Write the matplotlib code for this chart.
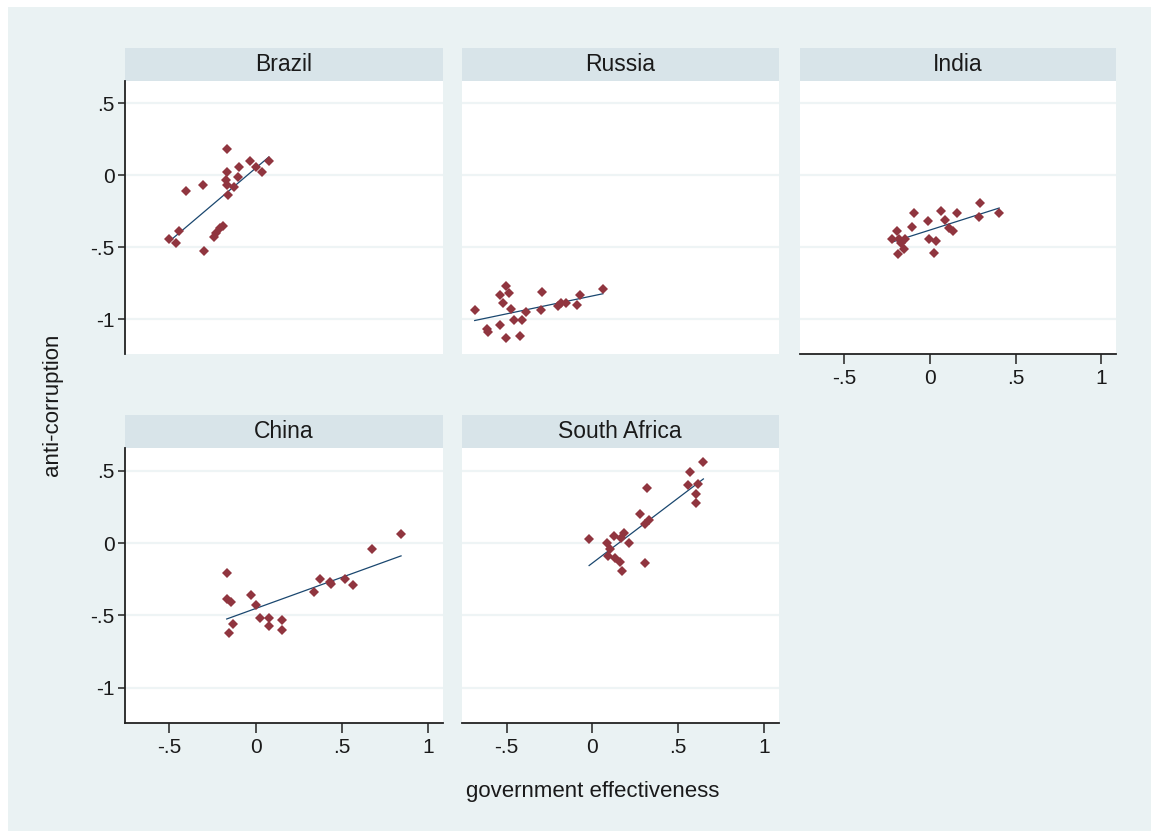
"""
Scatter plots of anti-corruption against government effectiveness for the BRICS countries,
with a linear fit for each country.
"""

import matplotlib.pyplot as plt
import numpy as np
from matplotlib.patches import Rectangle

plt.rcParams["font.family"] = ["Liberation Sans", "DejaVu Sans"]

COUNTRIES = ["Brazil", "Russia", "India", "China", "South Africa"]

brazil_x = [-0.167, -0.035, 0.076, -0.097, 0.004, 0.039, -0.167, -0.105, -0.174, -0.167, -0.128,
            -0.306, -0.403, -0.163, -0.446, -0.504, -0.461, -0.297, -0.190, -0.209, -0.228, -0.242]
brazil_y = [0.18, 0.10, 0.10, 0.06, 0.06, 0.025, 0.02, -0.01, -0.03, -0.07, -0.08,
            -0.07, -0.11, -0.14, -0.39, -0.44, -0.47, -0.53, -0.35, -0.37, -0.40, -0.43]

russia_x = [-0.686, -0.506, -0.536, -0.487, -0.522, -0.473, -0.296, -0.388, -0.302, -0.458, -0.411,
            -0.540, -0.613, -0.608, -0.506, -0.419, -0.199, -0.185, -0.156, -0.091, -0.072, 0.061]
russia_y = [-0.94, -0.77, -0.83, -0.82, -0.89, -0.93, -0.81, -0.95, -0.94, -1.01, -1.01,
            -1.04, -1.07, -1.09, -1.13, -1.12, -0.91, -0.89, -0.89, -0.90, -0.83, -0.79]

india_x = [0.294, 0.404, 0.286, 0.159, 0.066, 0.091, 0.110, 0.135, -0.093, -0.102, -0.012,
           -0.006, 0.037, 0.023, -0.189, -0.223, -0.179, -0.145, -0.170, -0.151, -0.185]
india_y = [-0.19, -0.26, -0.29, -0.26, -0.25, -0.31, -0.37, -0.39, -0.26, -0.36, -0.32,
           -0.44, -0.46, -0.54, -0.39, -0.44, -0.44, -0.44, -0.47, -0.51, -0.55]

china_x = [0.842, 0.671, -0.168, 0.370, 0.433, 0.437, 0.515, 0.563, 0.339, -0.029,
           0.000, -0.168, -0.142, 0.023, 0.076, 0.076, 0.154, 0.154, -0.129, -0.156]
china_y = [0.06, -0.04, -0.21, -0.25, -0.27, -0.28, -0.25, -0.29, -0.34, -0.36,
           -0.43, -0.39, -0.41, -0.52, -0.52, -0.57, -0.53, -0.60, -0.56, -0.62]

safrica_x = [0.647, 0.572, 0.556, 0.614, 0.605, 0.605, 0.318, 0.279, 0.332, 0.308, -0.019,
             0.127, 0.185, 0.166, 0.211, 0.088, 0.102, 0.092, 0.133, 0.160, 0.170, 0.306]
safrica_y = [0.56, 0.49, 0.40, 0.41, 0.34, 0.28, 0.38, 0.20, 0.16, 0.13, 0.03,
             0.05, 0.07, 0.035, 0.0, 0.0, -0.04, -0.09, -0.10, -0.13, -0.19, -0.14]

X_TICKS = [-0.5, 0, 0.5, 1]
X_TICK_LABELS = ["-.5", "0", ".5", "1"]
Y_TICKS = [-1, -0.5, 0, 0.5]
Y_TICK_LABELS = ["-1", "-.5", "0", ".5"]

BG_COLOR = "#EAF2F3"
GRID_COLOR = "#EEF4F5"
STRIP_COLOR = "#D8E4E9"
MARKER_COLOR = "#90353F"
LINE_COLOR = "#1A476F"

W, H = 1151, 831


def fig_box(left, top, right, bottom):
    """Pixel box (from top-left) to figure fraction rect."""
    return [left / W, 1 - bottom / H, (right - left) / W, (bottom - top) / H]


def draw_panel(fig, box, name, x, y, show_left, show_bottom):
    left, top, right, bottom = box
    strip = fig.add_axes(fig_box(left, top - 33, right, top))
    strip.set_facecolor(STRIP_COLOR)
    strip.set_xticks([])
    strip.set_yticks([])
    for sp in strip.spines.values():
        sp.set_visible(False)
    strip.text(0.5, 0.48, name, ha="center", va="center", fontsize=16.5, color="#1a1a1a",
               transform=strip.transAxes)

    ax = fig.add_axes(fig_box(left, top, right, bottom))
    ax.set_facecolor("white")
    ax.set_xlim(-0.76, 1.085)
    ax.set_ylim(-1.24, 0.66)
    ax.set_yticks(Y_TICKS)
    ax.set_xticks(X_TICKS)
    ax.yaxis.grid(True, color=GRID_COLOR, lw=1.6)
    ax.set_axisbelow(True)
    for side in ["top", "right"]:
        ax.spines[side].set_visible(False)
    ax.spines["left"].set_visible(show_left)
    ax.spines["bottom"].set_visible(show_bottom)
    for side in ["left", "bottom"]:
        ax.spines[side].set_color("#222222")
        ax.spines[side].set_linewidth(1.3)
    ax.tick_params(axis="y", left=show_left, labelleft=show_left, length=5, width=1.1,
                   pad=2, labelsize=15, color="#222222", labelcolor="#1a1a1a")
    ax.tick_params(axis="x", bottom=show_bottom, labelbottom=show_bottom, length=7, width=1.1,
                   pad=4, labelsize=15, color="#222222", labelcolor="#1a1a1a")
    ax.set_yticklabels(Y_TICK_LABELS)
    ax.set_xticklabels(X_TICK_LABELS)

    x = np.array(x)
    y = np.array(y)
    slope, intercept = np.polyfit(x, y, 1)
    xs = np.array([x.min(), x.max()])
    ax.plot(xs, intercept + slope * xs, color=LINE_COLOR, lw=0.9, zorder=2)
    ax.plot(x, y, "D", color=MARKER_COLOR, ms=5.4, mew=0, zorder=3)
    return ax


fig = plt.figure(figsize=(W / 100, H / 100), dpi=100)
fig.patch.set_facecolor("white")
fig.patches.append(Rectangle((8 / W, 0), 1 - 8 / W, 1 - 7 / H, transform=fig.transFigure,
                             facecolor=BG_COLOR, edgecolor="none", zorder=-10))

panels = [
    ((124.5, 80.5, 443, 353.5), brazil_x, brazil_y, True, False),
    ((462, 80.5, 778.5, 353.5), russia_x, russia_y, False, False),
    ((799.5, 80.5, 1116, 353.5), india_x, india_y, False, True),
    ((124.5, 447.5, 443, 722.5), china_x, china_y, True, True),
    ((462, 447.5, 778.5, 722.5), safrica_x, safrica_y, False, True),
]
for name, (box, x, y, show_left, show_bottom) in zip(COUNTRIES, panels):
    draw_panel(fig, box, name, x, y, show_left, show_bottom)

fig.text(593 / W, 1 - 791 / H, "government effectiveness", ha="center", va="center",
         fontsize=16, color="#1a1a1a")
fig.text(53 / W, 1 - 405 / H, "anti-corruption", ha="center", va="center", rotation=90,
         fontsize=16, color="#1a1a1a")

fig.savefig("out.png", dpi=100, facecolor=fig.get_facecolor())
